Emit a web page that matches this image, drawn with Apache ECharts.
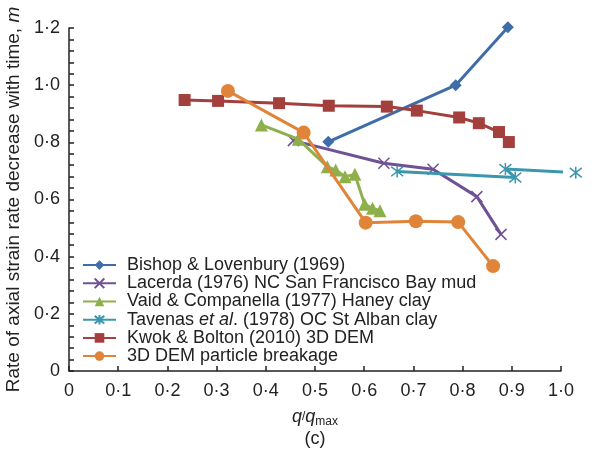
<!DOCTYPE html>
<html>
<head>
<meta charset="utf-8">
<title>Rate of axial strain rate decrease</title>
<script src="https://cdn.jsdelivr.net/npm/echarts@6/dist/echarts.min.js"></script>
<style>
  html, body { margin: 0; padding: 0; background: #fff; }
  #chart { width: 601px; height: 457px; }
</style>
</head>
<body>
<div id="chart"></div>
<script>
// Series names as they appear in the legend
const seriesNames = [
  'Bishop & Lovenbury (1969)',
  'Lacerda (1976) NC San Francisco Bay mud',
  'Vaid & Companella (1977) Haney clay',
  'Tavenas et al. (1978) OC St Alban clay',
  'Kwok & Bolton (2010) 3D DEM',
  '3D DEM particle breakage'
];

// [q/qmax, m] pairs for each data set
const bishop = [[0.527, 0.802], [0.786, 1.0], [0.892, 1.203]];
const lacerda = [[0.456, 0.806], [0.640, 0.727], [0.740, 0.706], [0.829, 0.610], [0.878, 0.478]];
const vaid = [[0.391, 0.861], [0.466, 0.811], [0.525, 0.715], [0.542, 0.703], [0.561, 0.680],
              [0.581, 0.688], [0.601, 0.583], [0.617, 0.569], [0.632, 0.561]];
const tavenas = [[0.667, 0.698], [0.907, 0.677], [0.887, 0.707], [1.03, 0.694]];
const kwok = [[0.235, 0.948], [0.303, 0.945], [0.427, 0.937], [0.528, 0.928], [0.646, 0.925],
              [0.707, 0.911], [0.793, 0.887], [0.833, 0.867], [0.874, 0.836], [0.894, 0.801]];
const breakage = [[0.323, 0.980], [0.477, 0.834], [0.603, 0.519], [0.705, 0.524], [0.791, 0.521], [0.862, 0.367]];

const seriesData = [bishop, lacerda, vaid, tavenas, kwok, breakage];

const colors = ['#3E6DA7', '#6F5196', '#8DB04B', '#3B97AE', '#A33F3C', '#E0843A'];

// marker shapes: diamond, X cross, triangle, star (X with vertical bar), square, circle
const crossPath = 'path://M0,0L10,10M10,0L0,10';
const starPath = 'path://M5,0L5,10M1,1L9,9M9,1L1,9';
const symbols = ['diamond', crossPath, 'triangle', starPath, 'rect', 'circle'];
const symbolSizes = [12, 11, 13, 12, 12, 14];

const FONT = '"Liberation Sans", Arial, sans-serif';

function tickText(v) {
  if (Math.abs(v) < 1e-9) return '0';
  return v.toFixed(1).replace('.', '\u00B7');
}

const chart = echarts.init(document.getElementById('chart'), null, { renderer: 'canvas' });

const series = seriesNames.map((name, i) => {
  const isStroke = (i === 1 || i === 3);
  return {
    name: name,
    type: 'line',
    data: seriesData[i],
    symbol: symbols[i],
    symbolSize: symbolSizes[i],
    showAllSymbol: true,
    clip: false,
    lineStyle: { color: colors[i], width: 3 },
    itemStyle: isStroke
      ? { color: colors[i], borderColor: colors[i], borderWidth: 1.5 }
      : { color: colors[i], borderWidth: 0 },
    emphasis: { disabled: true },
    z: 2 + i
  };
});

const option = {
  animation: false,
  backgroundColor: '#fff',
  textStyle: { fontFamily: FONT },
  grid: { left: 69, right: 40, top: 28, bottom: 86, containLabel: false, outerBoundsMode: 'none' },
  legend: {
    orient: 'vertical',
    left: 82,
    top: 256,
    itemWidth: 33,
    itemHeight: 12,
    itemGap: 0,
    padding: 0,
    selectedMode: false,
    textStyle: {
      fontFamily: FONT, fontSize: 18, color: '#222', lineHeight: 18.2, padding: [0, 0, 0, 6],
      rich: {
        it: { fontFamily: FONT, fontSize: 18, fontStyle: 'italic', color: '#222', lineHeight: 18.2 }
      }
    },
    formatter: function (name) {
      if (name.indexOf('Tavenas et al.') === 0) {
        return 'Tavenas {it|et al}. (1978) OC St Alban clay';
      }
      return name;
    },
    data: seriesNames
  },
  xAxis: {
    type: 'value',
    min: 0,
    max: 1,
    interval: 0.1,
    name: '{i|q}/{i|q}{sub|max}\n{n|(c)}',
    nameLocation: 'middle',
    nameGap: 35,
    nameTextStyle: {
      rich: {
        i: { fontFamily: FONT, fontSize: 18, fontStyle: 'italic', color: '#222', lineHeight: 22 },
        sub: { fontFamily: FONT, fontSize: 12, color: '#222', lineHeight: 13, verticalAlign: 'bottom' },
        n: { fontFamily: FONT, fontSize: 18, color: '#222', lineHeight: 22 }
      }
    },
    axisLine: { show: true, onZero: false, lineStyle: { color: '#222', width: 1.5 } },
    axisTick: { show: true, inside: true, length: 5, lineStyle: { color: '#222', width: 1.5 } },
    axisLabel: { formatter: tickText, fontSize: 18, color: '#222', margin: 11, fontFamily: FONT },
    splitLine: { show: false }
  },
  yAxis: {
    type: 'value',
    min: 0,
    max: 1.2,
    interval: 0.2,
    name: 'Rate of axial strain rate decrease with time, {i|m}',
    nameLocation: 'middle',
    nameGap: 46,
    nameTextStyle: {
      fontFamily: FONT, fontSize: 19, color: '#222',
      rich: {
        i: { fontFamily: FONT, fontSize: 19, fontStyle: 'italic', color: '#222' }
      }
    },
    axisLine: { show: true, onZero: false, lineStyle: { color: '#222', width: 1.5 } },
    axisTick: { show: true, inside: true, length: 5, lineStyle: { color: '#222', width: 1.5 } },
    minorTick: { show: true, splitNumber: 5, length: 5, lineStyle: { color: '#222', width: 1.5 } },
    axisLabel: { formatter: tickText, fontSize: 18, color: '#222', margin: 9, fontFamily: FONT },
    splitLine: { show: false },
    minorSplitLine: { show: false }
  },
  series: series
};

chart.setOption(option);
</script>
</body>
</html>
